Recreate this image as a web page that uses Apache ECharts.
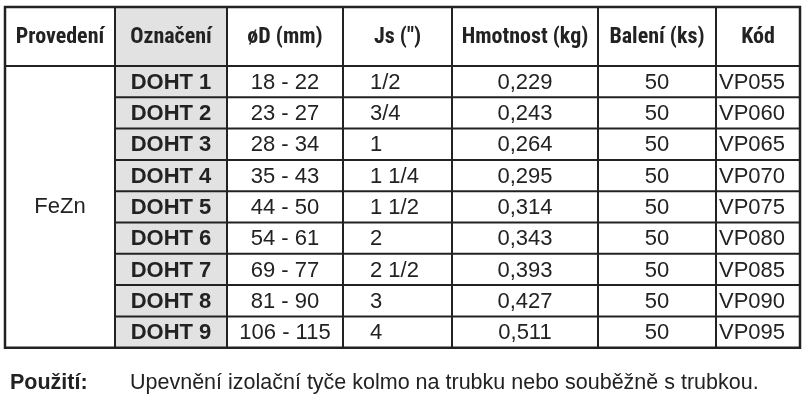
<!DOCTYPE html>
<html><head><meta charset="utf-8">
<script src="https://cdn.jsdelivr.net/npm/echarts@6/dist/echarts.min.js"></script>
<style>html,body{margin:0;background:#fff}#c{width:810px;height:414px}</style>
</head><body><div id="c"></div>
<script>
// data
var headers = ['Provedení', 'Označení', 'øD (mm)', 'Js (")', 'Hmotnost (kg)', 'Balení (ks)', 'Kód'];
var material = 'FeZn';
var codes = ['DOHT 1', 'DOHT 2', 'DOHT 3', 'DOHT 4', 'DOHT 5', 'DOHT 6', 'DOHT 7', 'DOHT 8', 'DOHT 9'];
var diameters = ['18 - 22', '23 - 27', '28 - 34', '35 - 43', '44 - 50', '54 - 61', '69 - 77', '81 - 90', '106 - 115'];
var threads = ['1/2', '3/4', '1', '1 1/4', '1 1/2', '2', '2 1/2', '3', '4'];
var weights = ['0,229', '0,243', '0,264', '0,295', '0,314', '0,343', '0,393', '0,427', '0,511'];
var packs = [50, 50, 50, 50, 50, 50, 50, 50, 50];
var vpCodes = ['VP055', 'VP060', 'VP065', 'VP070', 'VP075', 'VP080', 'VP085', 'VP090', 'VP095'];
var noteLabel = 'Použití:';
var noteText = 'Upevnění izolační tyče kolmo na trubku nebo souběžně s trubkou.';

// layout
var colX = [5, 115, 227, 343, 452, 598, 716, 800];
var top0 = 7, headBottom = 66, rowH = 31.3;
var bodyFont = '22px "Liberation Sans", Arial, sans-serif';
var headFont = 'bold 22px "Liberation Sans Narrow", "Roboto Condensed", "Liberation Sans", sans-serif';
var noteFont = '21.5px "Liberation Sans", Arial, sans-serif';
var ink = '#222';

function txt(x, y, s, font, align) {
    return { type: 'text', style: { x: x, y: y, text: String(s), font: font, fill: ink, align: align || 'center', verticalAlign: 'middle' } };
}

var myChart = echarts.init(document.getElementById('c'));
myChart.setOption({
    animation: false,
    xAxis: { show: false, type: 'value', min: 0, max: 1 },
    yAxis: { show: false, type: 'value', min: 0, max: 1 },
    grid: { left: 0, right: 0, top: 0, bottom: 0 },
    series: [{
        type: 'custom',
        coordinateSystem: 'none',
        data: codes.map(function (c, i) { return [i]; }),
        renderItem: function (params, api) {
            var i = params.dataIndex;
            var y0 = headBottom + i * rowH, yc = y0 + rowH / 2 + 1;
            var ch = [
                { type: 'rect', shape: { x: colX[1], y: y0, width: colX[2] - colX[1], height: rowH }, style: { fill: '#e2e2e2' } },
                txt((colX[1] + colX[2]) / 2, yc, codes[i], 'bold ' + bodyFont),
                txt((colX[2] + colX[3]) / 2, yc, diameters[i], bodyFont),
                txt(370, yc, threads[i], bodyFont, 'left'),
                txt((colX[4] + colX[5]) / 2, yc, weights[i], bodyFont),
                txt((colX[5] + colX[6]) / 2, yc, packs[i], bodyFont),
                txt(719, yc, vpCodes[i], bodyFont, 'left')
            ];
            if (i > 0) ch.push({ type: 'line', shape: { x1: colX[1], y1: y0, x2: colX[7], y2: y0 }, style: { stroke: ink, lineWidth: 2 } });
            return { type: 'group', children: ch };
        }
    }],
    graphic: (function () {
        var g = [];
        var bottom = headBottom + codes.length * rowH;
        g.push({ type: 'rect', z: -1, shape: { x: colX[1], y: top0, width: colX[2] - colX[1], height: headBottom - top0 }, style: { fill: '#e2e2e2' } });
        headers.forEach(function (h, k) {
            g.push(txt((colX[k] + colX[k + 1]) / 2, (top0 + headBottom) / 2 + 1, h, headFont));
        });
        g.push(txt((colX[0] + colX[1]) / 2, (headBottom + bottom) / 2, material, bodyFont));
        g.push({ type: 'rect', z: 10, shape: { x: colX[0], y: top0, width: colX[7] - colX[0], height: bottom - top0 }, style: { fill: 'none', stroke: ink, lineWidth: 2.5 } });
        g.push({ type: 'line', z: 10, shape: { x1: colX[0], y1: headBottom, x2: colX[7], y2: headBottom }, style: { stroke: ink, lineWidth: 2 } });
        for (var k = 1; k < 7; k++) {
            g.push({ type: 'line', z: 10, shape: { x1: colX[k], y1: top0, x2: colX[k], y2: bottom }, style: { stroke: ink, lineWidth: 2 } });
        }
        g.push(txt(10, 383, noteLabel, 'bold ' + noteFont, 'left'));
        g.push(txt(130, 383, noteText, noteFont, 'left'));
        return g;
    })()
});
</script></body></html>
